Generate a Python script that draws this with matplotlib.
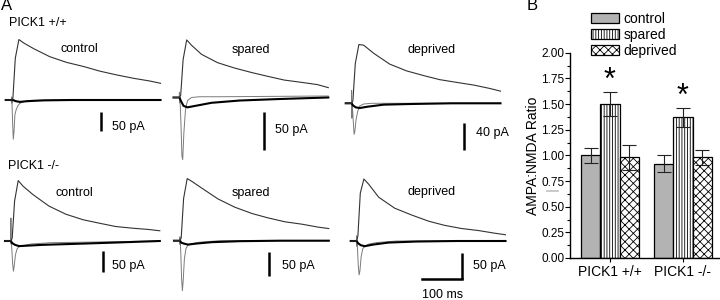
import matplotlib
matplotlib.use("Agg")
import matplotlib.pyplot as plt
from matplotlib.lines import Line2D
from matplotlib.ticker import MultipleLocator
import numpy as np

plt.rcParams['font.family'] = ['Liberation Sans', 'DejaVu Sans']
plt.rcParams['hatch.linewidth'] = 0.6

# ---------- A: example EPSCs (time in ms, current in pA) ----------
t_nmda = [-15, 0, 3, 9, 18, 30, 55, 95, 137, 180, 220, 262, 305, 345, 372]
t_ampa = [-15, -0.6, -0.2, 0.2, 0.6, 2, 4, 6, 8, 11, 15, 20, 30, 50, 100, 372]
t_base = [-15, 0, 3, 10, 20, 40, 80, 150, 250, 372]

# outward currents (+40 mV)
wt_control_nmda = [0, 0, 5, 110, 159, 150, 135, 114, 99, 88, 76, 66, 57, 50, 44]
wt_spared_nmda = [0, 0, 3, 50, 76, 69, 57, 46, 39, 33, 28, 23, 20, 17, 13]
wt_deprived_nmda = [0, 0, 4, 59, 87, 86, 74, 58, 48, 41, 35, 31, 27, 22, 18]
ko_control_nmda = [0, 0, 7, 94, 142, 129, 109, 82, 63, 50, 42, 34, 30, 27, 24]
ko_spared_nmda = [0, 0, 6, 87, 128, 122, 108, 86, 69, 56, 47, 39, 34, 28, 25]
ko_deprived_nmda = [0, 0, 10, 92, 119, 109, 84, 63, 50, 38, 30, 24, 20, 15, 12]

# inward currents (-70 mV), stimulus artifact included
wt_control_ampa = [0, 0, 8, -8, 0, -53, -103, -79, -39, -26, -16, -9, -4, -1, 0, 0]
wt_spared_ampa = [0, 0, 7, -7, 0, -11, -40, -77, -82, -46, -16, -4, 0, 1, 1, 2]
wt_deprived_ampa = [0, 0, 19, -22, 0, -7, -27, -46, -41, -24, -12, -4, -1, 0, 0, 0]
ko_control_ampa = [0, 0, 54, -7, 0, -19, -52, -71, -59, -33, -19, -13, -11, -7, -4, 0]
ko_spared_ampa = [0, 0, 8, -8, 0, -25, -78, -103, -82, -37, -16, -9, -6, -3, 0, 0]
ko_deprived_ampa = [0, 0, 10, -10, 0, -15, -48, -65, -58, -31, -15, -10, -6, -3, 0, 0]

# thick baseline traces
wt_control_base = [0, 0, 0, -3, -5, -3, -1, 0, 0, 0]
wt_spared_base = [0, 0, -4, -11, -13, -11, -7, -4, -2, 0]
wt_deprived_base = [0, 0, -3, -6, -7, -5, -2, -1, 0, 0]
ko_control_base = [0, 0, -5, -9, -12, -11, -9, -7, -4, 0]
ko_spared_base = [0, 0, -4, -6, -8, -6, -3, -1, 0, 0]
ko_deprived_base = [0, 0, -4, -8, -10, -7, -3, -1, 0, 0]

scale_pa = [50, 50, 40, 50, 50, 50]
scale_ms = 100

# ---------- B: AMPA:NMDA ratio ----------
groups = ['PICK1 +/+', 'PICK1 -/-']
conditions = ['control', 'spared', 'deprived']
control_mean = [1.00, 0.92]
control_sem = [0.07, 0.08]
spared_mean = [1.50, 1.37]
spared_sem = [0.12, 0.09]
deprived_mean = [0.98, 0.98]
deprived_sem = [0.12, 0.07]
significant = [False, True, False]   # spared vs control, both genotypes

W, H = 720, 300
fig = plt.figure(figsize=(W / 100, H / 100), dpi=100)
MS_PER_PX = 2.5


def px_rect(x0, y0, x1, y1):
    return [x0 / W, 1 - y1 / H, (x1 - x0) / W, (y1 - y0) / H]


def ftext(x, y, s, **kw):
    kw.setdefault('va', 'center')
    fig.text(x / W, 1 - y / H, s, **kw)


def trace_panel(box, stim_x, base_y, pa_px, nmda, ampa, base, name, name_xy,
                bar_pa, bar_xy, bar_txt_xy, time_bar=False):
    x0, y0, x1, y1 = box
    ax = fig.add_axes(px_rect(*box))
    ax.set_xlim((x0 - stim_x) * MS_PER_PX, (x1 - stim_x) * MS_PER_PX)
    ax.set_ylim((base_y - y1) * pa_px, (base_y - y0) * pa_px)
    ax.axis('off')
    ax.patch.set_alpha(0)
    ax.plot(t_ampa, ampa, color='#7a7a7a', lw=0.7, clip_on=False)
    ax.plot(t_base, base, color='black', lw=1.5, clip_on=False)
    ax.plot(t_nmda, nmda, color='#333333', lw=0.8, clip_on=False)
    # scale bar
    tb = (bar_xy[0] - stim_x) * MS_PER_PX
    pb = (base_y - bar_xy[1]) * pa_px
    ax.plot([tb, tb], [pb, pb - bar_pa], color='black', lw=1.8,
            solid_capstyle='butt', clip_on=False)
    if time_bar:
        ax.plot([tb - scale_ms, tb], [pb - bar_pa] * 2, color='black', lw=1.8,
                solid_capstyle='projecting', clip_on=False)
    ftext(*bar_txt_xy, f'{bar_pa} pA', fontsize=9)
    ftext(*name_xy, name, fontsize=9)


trace_panel((0, 28, 170, 168), 11.7, 100, 2.63, wt_control_nmda, wt_control_ampa,
            wt_control_base, 'control', (60.5, 49), scale_pa[0], (101, 112), (112, 127))
trace_panel((170, 28, 340, 168), 179.5, 97.5, 1.32, wt_spared_nmda, wt_spared_ampa,
            wt_spared_base, 'spared', (231.5, 50), scale_pa[1], (264, 112), (275, 130))
trace_panel((340, 28, 510, 168), 351.7, 103.3, 1.48, wt_deprived_nmda, wt_deprived_ampa,
            wt_deprived_base, 'deprived', (408, 50), scale_pa[2], (464, 123), (476, 133))
trace_panel((0, 168, 170, 300), 11, 241, 2.35, ko_control_nmda, ko_control_ampa,
            ko_control_base, 'control', (55, 192.5), scale_pa[3], (103, 251), (112.5, 266))
trace_panel((170, 168, 340, 300), 180, 240.7, 2.06, ko_spared_nmda, ko_spared_ampa,
            ko_spared_base, 'spared', (231.5, 193), scale_pa[4], (269, 252), (281.5, 266))
trace_panel((340, 168, 510, 300), 356.7, 241, 1.92, ko_deprived_nmda, ko_deprived_ampa,
            ko_deprived_base, 'deprived', (408, 191.5), scale_pa[5], (462, 253.3),
            (473, 266.5), time_bar=True)

ftext(443, 295, f'{scale_ms} ms', fontsize=9, ha='center')
ftext(9, 23.5, 'PICK1 +/+', fontsize=9)
ftext(8, 166, 'PICK1 -/-', fontsize=9)
ftext(1, 6, 'A', fontsize=12)
ftext(527, 6, 'B', fontsize=12)

# ---------- B ----------
axb = fig.add_axes(px_rect(570, 52.7, 720, 258))
x = np.arange(len(groups))
w = 0.267
means = [control_mean, spared_mean, deprived_mean]
sems = [control_sem, spared_sem, deprived_sem]
faces = ['#b3b3b3', 'white', 'white']
hatches = [None, '||||||', 'xxxx']
for i, cond in enumerate(conditions):
    axb.bar(x + (i - 1) * w, means[i], w, yerr=sems[i], color=faces[i],
            edgecolor='black', linewidth=0.9, hatch=hatches[i], label=cond,
            error_kw=dict(ecolor='#222222', elinewidth=0.8, capsize=5, capthick=0.8))
    if significant[i]:
        for xi, m, s in zip(x, means[i], sems[i]):
            axb.text(xi + (i - 1) * w, m + s + 0.11, '*', ha='center',
                     va='center', fontsize=22)

axb.set_xlim(-0.548, 1.507)
axb.set_ylim(0, 2)
axb.set_xticks(x)
axb.set_xticklabels(groups, fontsize=10)
yt = np.arange(0, 2.01, 0.25)
axb.set_yticks(yt)
axb.set_yticklabels([f'{v:.2f}' for v in yt], fontsize=8.5)
axb.yaxis.set_minor_locator(MultipleLocator(0.125))
axb.tick_params(axis='y', which='major', length=3.5, width=0.8, pad=0.5)
axb.tick_params(axis='y', which='minor', length=2, width=0.8)
axb.tick_params(axis='x', length=3, width=0.8, pad=2)
axb.set_ylabel('AMPA:NMDA Ratio', fontsize=10, labelpad=1)
for side in ['top', 'right']:
    axb.spines[side].set_visible(False)
for side in ['left', 'bottom']:
    axb.spines[side].set_linewidth(1.0)

fig.legend(*axb.get_legend_handles_labels(), loc='upper left',
           bbox_to_anchor=(591 / W, 1 - 12 / H), bbox_transform=fig.transFigure,
           frameon=False, fontsize=10, borderpad=0, borderaxespad=0,
           handlelength=2.0, handleheight=0.75, handletextpad=0.35,
           labelspacing=0.15)

# stray grey mark in the original figure
fig.add_artist(Line2D([546.7 / W, 557.7 / W], [1 - 190.7 / H] * 2,
                      color='#c0c0c0', lw=1.2))

fig.savefig('out.png', dpi=100)
